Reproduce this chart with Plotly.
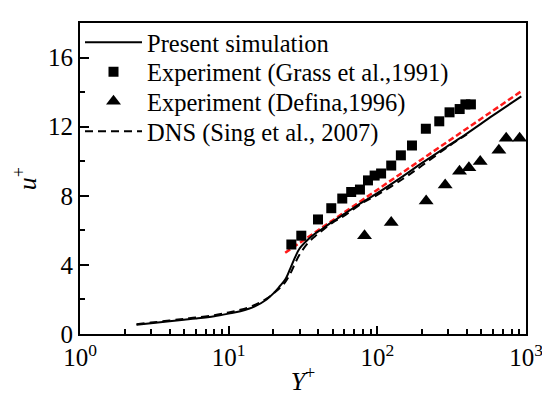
import plotly.graph_objects as go

# ---- data ----
sim_x = [2.4, 3, 4, 5, 6, 8, 10, 12, 15, 18, 20, 22, 24, 26, 28, 30, 34, 38, 42, 50, 60, 80, 100, 150, 200, 300, 400, 600, 930]
sim_y = [0.53, 0.62, 0.74, 0.83, 0.9, 1.03, 1.18, 1.32, 1.6, 2.0, 2.35, 2.75, 3.15, 3.8, 4.45, 4.95, 5.45, 5.8, 6.05, 6.5, 6.95, 7.65, 8.15, 9.15, 9.9, 10.9, 11.6, 12.65, 13.75]

dns_x = [2.4, 3, 4, 5, 6, 8, 10, 12, 15, 18, 20, 22, 24, 26, 28, 30, 34, 38, 42, 50, 60, 80, 100, 150, 200, 300, 400]
dns_y = [0.57, 0.66, 0.78, 0.88, 0.95, 1.09, 1.25, 1.4, 1.68, 2.05, 2.35, 2.65, 3.0, 3.5, 4.1, 4.6, 5.25, 5.65, 5.95, 6.45, 6.85, 7.6, 8.05, 9.0, 9.75, 10.85, 11.55]

grass_x = [26.4, 30.8, 39.9, 49, 58.1, 66.7, 76.4, 86.5, 95.9, 106, 124, 144, 171, 212, 261, 306, 358, 391, 426]
grass_y = [5.18, 5.69, 6.63, 7.28, 7.84, 8.22, 8.36, 8.89, 9.17, 9.29, 9.75, 10.34, 10.91, 11.88, 12.31, 12.83, 13.02, 13.29, 13.29]

defina_x = [82, 124, 213, 286, 357, 413, 492, 657, 736, 906]
defina_y = [5.69, 6.46, 7.70, 8.62, 9.42, 9.62, 9.99, 10.63, 11.33, 11.33]

loglaw_x = [24, 930]
loglaw_y = [4.7, 14.05]

x_tickvals = [1, 10, 100, 1000]
x_ticktext = ["10<sup>0</sup>", "10<sup>1</sup>", "10<sup>2</sup>", "10<sup>3</sup>"]
x_minor = [2, 3, 4, 5, 6, 7, 8, 9, 20, 30, 40, 50, 60, 70, 80, 90, 200, 300, 400, 500, 600, 700, 800, 900]
y_tickvals = [0, 4, 8, 12, 16]
y_minor = [2, 6, 10, 14]

FONT = "Liberation Serif"
LEG_FONT = dict(family=FONT, size=24.5, color="black")

fig = go.Figure()
fig.add_trace(go.Scatter(x=loglaw_x, y=loglaw_y, mode="lines", showlegend=False,
                         line=dict(color="#ff1a1a", width=2.5, dash="6px,3px")))
fig.add_trace(go.Scatter(x=sim_x, y=sim_y, mode="lines", name="Present simulation", legend="legend",
                         line=dict(color="black", width=2, shape="spline")))
fig.add_trace(go.Scatter(x=grass_x, y=grass_y, mode="markers", name="Experiment (Grass et al.,1991)",
                         legend="legend2", marker=dict(symbol="square", size=10, color="black")))
fig.add_trace(go.Scatter(x=defina_x, y=defina_y, mode="markers", name="Experiment (Defina,1996)",
                         legend="legend3", marker=dict(symbol="triangle-up", size=13, color="black")))
fig.add_trace(go.Scatter(x=dns_x, y=dns_y, mode="lines", name="DNS (Sing et al., 2007)", legend="legend4",
                         line=dict(color="black", width=2, dash="8px,5px", shape="spline")))

def leg(ypos):
    return dict(x=0.0, y=ypos, xanchor="left", yanchor="middle",
                bgcolor="rgba(0,0,0,0)", borderwidth=0, font=LEG_FONT, itemwidth=57)

fig.update_layout(
    width=550, height=398,
    margin=dict(l=72, r=32, t=13, b=72),
    paper_bgcolor="white", plot_bgcolor="white",
    font=dict(family=FONT, size=24, color="black"),
    legend=leg(0.938), legend2=leg(0.843), legend3=leg(0.748), legend4=leg(0.652),
    xaxis=dict(type="log", range=[0, 3], automargin=False,
               tickvals=x_tickvals, ticktext=x_ticktext,
               ticks="inside", ticklen=8, tickwidth=1.5, tickcolor="black",
               minor=dict(tickvals=x_minor, ticks="inside", ticklen=5, tickwidth=1.5, tickcolor="black"),
               showline=True, linecolor="black", linewidth=2, mirror=True,
               showgrid=False, zeroline=False,
               tickfont=dict(family=FONT, size=25, color="black"),
               title=dict(text="<i>Y</i><sup>+</sup>", font=dict(family=FONT, size=26, color="black"), standoff=2)),
    yaxis=dict(range=[0, 18], automargin=False,
               tickvals=y_tickvals,
               ticks="inside", ticklen=9, tickwidth=1.5, tickcolor="black",
               minor=dict(tickvals=y_minor, ticks="inside", ticklen=5, tickwidth=1.5, tickcolor="black"),
               showline=True, linecolor="black", linewidth=2, mirror=True,
               showgrid=False, zeroline=False,
               tickfont=dict(family=FONT, size=25, color="black"),
               title=dict(text="<i>u</i><sup>+</sup>", font=dict(family=FONT, size=26, color="black"), standoff=4)),
)

fig.write_html("out.html")
